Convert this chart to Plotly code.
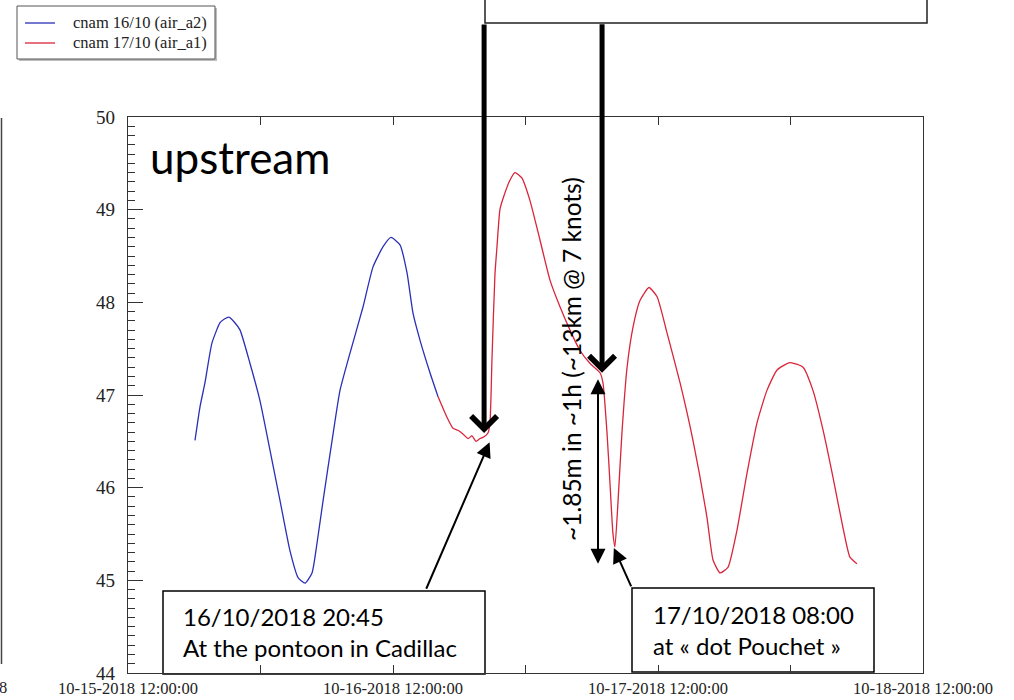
import plotly.graph_objects as go

# Water level (m) logged by the two cnam runs
t_a2 = ["2018-10-15 18:04", "2018-10-15 18:31", "2018-10-15 18:58", "2018-10-15 19:36",
        "2018-10-15 20:20", "2018-10-15 20:44", "2018-10-15 21:09", "2018-10-15 21:36",
        "2018-10-15 22:09", "2018-10-15 23:03",
        "2018-10-15 23:57", "2018-10-16 00:52", "2018-10-16 01:46", "2018-10-16 02:40",
        "2018-10-16 03:24", "2018-10-16 04:02", "2018-10-16 04:40", "2018-10-16 05:07",
        "2018-10-16 05:40", "2018-10-16 06:29", "2018-10-16 07:12", "2018-10-16 08:06",
        "2018-10-16 09:17", "2018-10-16 10:11", "2018-10-16 11:06", "2018-10-16 11:49",
        "2018-10-16 12:38", "2018-10-16 13:16", "2018-10-16 13:49", "2018-10-16 14:27",
        "2018-10-16 15:21", "2018-10-16 16:05"]
h_a2 = [46.51, 46.87, 47.13, 47.56, 47.78, 47.82, 47.84, 47.79, 47.70, 47.34,
        46.94, 46.40, 45.86, 45.32, 45.03, 44.97, 45.08, 45.40, 45.86, 46.51,
        47.05, 47.45, 47.95, 48.38, 48.60, 48.70, 48.62, 48.32, 47.88, 47.59,
        47.24, 46.98]

t_a1 = ["2018-10-16 16:05", "2018-10-16 16:53", "2018-10-16 17:26", "2018-10-16 17:53",
        "2018-10-16 18:20", "2018-10-16 18:48", "2018-10-16 19:09", "2018-10-16 19:31",
        "2018-10-16 19:53", "2018-10-16 20:15", "2018-10-16 20:36", "2018-10-16 20:47",
        "2018-10-16 20:58", "2018-10-16 21:14", "2018-10-16 21:25", "2018-10-16 21:41",
        "2018-10-16 21:58", "2018-10-16 22:36", "2018-10-16 23:03", "2018-10-16 23:41",
        "2018-10-17 00:24", "2018-10-17 01:19", "2018-10-17 02:13", "2018-10-17 03:08",
        "2018-10-17 04:02", "2018-10-17 04:56", "2018-10-17 05:51", "2018-10-17 06:45",
        "2018-10-17 07:01", "2018-10-17 07:23", "2018-10-17 07:39", "2018-10-17 07:55",
        "2018-10-17 08:06", "2018-10-17 08:23", "2018-10-17 08:44", "2018-10-17 09:12",
        "2018-10-17 09:44", "2018-10-17 10:22", "2018-10-17 11:11", "2018-10-17 11:55",
        "2018-10-17 12:49", "2018-10-17 14:00", "2018-10-17 15:10", "2018-10-17 16:26",
        "2018-10-17 16:59", "2018-10-17 17:37", "2018-10-17 18:20", "2018-10-17 19:09",
        "2018-10-17 20:04", "2018-10-17 20:58", "2018-10-17 21:52", "2018-10-17 22:47",
        "2018-10-17 23:57", "2018-10-18 01:08", "2018-10-18 02:02", "2018-10-18 02:57",
        "2018-10-18 03:51", "2018-10-18 04:45", "2018-10-18 05:23", "2018-10-18 06:01"]
h_a1 = [46.98, 46.76, 46.64, 46.62, 46.58, 46.53, 46.56, 46.50, 46.53, 46.55,
        46.59, 46.70, 47.40, 48.30, 48.60, 49.00, 49.12, 49.32, 49.40, 49.34,
        49.10, 48.67, 48.24, 47.95, 47.70, 47.48, 47.34, 47.24, 47.13, 46.59,
        46.05, 45.51, 45.36, 45.86, 46.59, 47.30, 47.73, 48.02, 48.16, 48.06,
        47.67, 47.13, 46.51, 45.68, 45.22, 45.08, 45.14, 45.54, 46.16, 46.70,
        47.05, 47.27, 47.35, 47.30, 47.05, 46.62, 46.11, 45.57, 45.25, 45.18]

name_a2 = "cnam 16/10 (air_a2)"
name_a1 = "cnam 17/10 (air_a1)"

# Axis ticks: every 12 h, labelled at noon
x_tickvals = ["2018-10-15 12:00", "2018-10-16 00:00", "2018-10-16 12:00", "2018-10-17 00:00",
              "2018-10-17 12:00", "2018-10-18 00:00", "2018-10-18 12:00"]
x_ticktext = ["10-15-2018 12:00:00", "", "10-16-2018 12:00:00", "",
              "10-17-2018 12:00:00", "", "10-18-2018 12:00:00"]
y_tickvals = [44, 45, 46, 47, 48, 49, 50]

# Marked events
pontoon_pt = ("2018-10-16 20:45", 46.49)      # at the pontoon in Cadillac
pouchet_pt = ("2018-10-17 08:00", 45.35)      # at "dot Pouchet"
drop_bottom = ("2018-10-17 06:34", 45.18)
marker_a = ("2018-10-16 20:15", 46.59)
marker_b = ("2018-10-17 06:56", 47.24)

BLUE = "#2b2fb8"
RED = "#d8253a"

W, H = 1014, 700
L, R, T, B = 128, 91, 117, 27
PW, PH = W - L - R, H - T - B


def px(x):
    return (x - L) / PW


def py(y):
    return (H - B - y) / PH


fig = go.Figure()
fig.add_trace(go.Scatter(x=t_a2, y=h_a2, mode="lines", name=name_a2,
                         line=dict(color=BLUE, width=1.3, shape="spline", smoothing=0.5),
                         showlegend=False))
fig.add_trace(go.Scatter(x=t_a1, y=h_a1, mode="lines", name=name_a1,
                         line=dict(color=RED, width=1.3, shape="spline", smoothing=0.5),
                         showlegend=False))

tick_font = dict(family="Liberation Serif", size=16.5, color="#222")

fig.update_xaxes(range=["2018-10-15 12:00", "2018-10-18 12:00"], tickvals=x_tickvals,
                 ticktext=x_ticktext, ticks="inside", ticklen=8, tickwidth=1.2,
                 tickcolor="#333", showline=True, linecolor="#333", linewidth=1.2,
                 mirror="allticks", showgrid=False, zeroline=False, automargin=False,
                 ticklabelstandoff=0, tickfont=tick_font)

y_common = dict(range=[44, 50], tickvals=y_tickvals, ticks="inside", ticklen=15,
                tickwidth=1.2, tickcolor="#333", showline=True, linecolor="#333",
                linewidth=1.2, showgrid=False, zeroline=False, automargin=False,
                minor=dict(dtick=0.1, ticks="inside", ticklen=7, tickcolor="#333",
                           tickwidth=1.2, showgrid=False))
fig.update_layout(
    yaxis=dict(**y_common, mirror=True, ticklabelstandoff=8,
               tickfont=dict(family="Liberation Serif", size=19, color="#222")),
    yaxis2=dict(**y_common, overlaying="y", side="right", showticklabels=False),
)

shapes = []
annotations = []

# legend box
lx0, ly0, lx1, ly1 = 17, 6, 215, 59
shapes.append(dict(type="rect", xref="paper", yref="paper", x0=px(lx0 + 2), x1=px(lx1 + 2),
                   y0=py(ly1 + 2), y1=py(ly0 + 2), line=dict(width=0), fillcolor="#bdbdbd"))
shapes.append(dict(type="rect", xref="paper", yref="paper", x0=px(lx0), x1=px(lx1),
                   y0=py(ly1), y1=py(ly0), line=dict(color="#555", width=1), fillcolor="white"))
for yy, col, nm in [(23, BLUE, name_a2), (43, RED, name_a1)]:
    shapes.append(dict(type="line", xref="paper", yref="paper", x0=px(25), x1=px(55),
                       y0=py(yy), y1=py(yy), line=dict(color=col, width=1.3)))
    annotations.append(dict(xref="paper", yref="paper", x=px(71), y=py(yy), text=nm,
                            showarrow=False, xanchor="left", yanchor="middle",
                            font=dict(family="Liberation Serif", size=16.5, color="#222")))

# top box (extends above the page)
shapes.append(dict(type="rect", xref="paper", yref="paper", x0=px(485), x1=px(927),
                   y0=py(23), y1=py(-30), line=dict(color="#222", width=1.5),
                   fillcolor="white"))

# left neighbour panel edge
shapes.append(dict(type="line", xref="paper", yref="paper", x0=px(1.5), x1=px(1.5),
                   y0=py(118), y1=py(664), line=dict(color="#444", width=1.5)))
annotations.append(dict(xref="paper", yref="paper", x=px(3), y=py(687), text="8",
                        showarrow=False, xanchor="center", yanchor="middle",
                        font=dict(family="Liberation Serif", size=16.5, color="#222")))

# text boxes
shapes.append(dict(type="rect", xref="paper", yref="paper", x0=px(163), x1=px(485),
                   y0=py(674), y1=py(591), line=dict(color="black", width=1.5),
                   fillcolor="white", layer="below"))
shapes.append(dict(type="rect", xref="paper", yref="paper", x0=px(632), x1=px(874),
                   y0=py(672), y1=py(588), line=dict(color="black", width=1.5),
                   fillcolor="white", layer="below"))

SANS = "Lato"
annotations.append(dict(xref="paper", yref="paper", x=px(181), y=py(632),
                        text="16/10/2018 20:45<br>At the pontoon in Cadillac",
                        showarrow=False, xanchor="left", yanchor="middle", align="left",
                        font=dict(family=SANS, size=24, color="black")))
annotations.append(dict(xref="paper", yref="paper", x=px(651), y=py(630),
                        text="17/10/2018 08:00<br>at « dot Pouchet »",
                        showarrow=False, xanchor="left", yanchor="middle", align="left",
                        font=dict(family=SANS, size=24, color="black")))
annotations.append(dict(xref="paper", yref="paper", x=px(148), y=py(157),
                        text="upstream", showarrow=False, xanchor="left", yanchor="middle",
                        font=dict(family=SANS, size=44, color="black")))
annotations.append(dict(xref="paper", yref="paper", x=px(571), y=py(359),
                        text="~1.85m in ~1h (~13km @ 7 knots)", textangle=-90,
                        showarrow=False, xanchor="center", yanchor="middle",
                        font=dict(family=SANS, size=24.5, color="black")))


def arrow(pt, ax, ay, head, width, size, both=False):
    return dict(x=pt[0], y=pt[1], xref="x", yref="y", ax=ax, ay=ay, axref="pixel",
                ayref="pixel", text="", showarrow=True, arrowhead=head,
                arrowwidth=width, arrowsize=size, arrowcolor="black", standoff=0,
                startstandoff=0, arrowside="end+start" if both else "end",
                startarrowhead=head, startarrowsize=size)


# heavy pointers from the top box
annotations.append(arrow(marker_a, 0, 23 - 433, 4, 5, 1.0))
annotations.append(arrow(marker_b, 0, 23 - 373, 4, 5, 1.0))
# callouts from the text boxes
annotations.append(arrow(pontoon_pt, -64, 148, 2, 2, 1.5))
annotations.append(arrow(pouchet_pt, 18, 40, 2, 2, 1.5))
# level drop span
annotations.append(arrow(drop_bottom, 0, -186, 2, 2, 1.5, both=True))

fig.update_layout(width=W, height=H, margin=dict(l=L, r=R, t=T, b=B, pad=0),
                  paper_bgcolor="white", plot_bgcolor="white", showlegend=False,
                  shapes=shapes, annotations=annotations)

fig.write_html("out.html")
